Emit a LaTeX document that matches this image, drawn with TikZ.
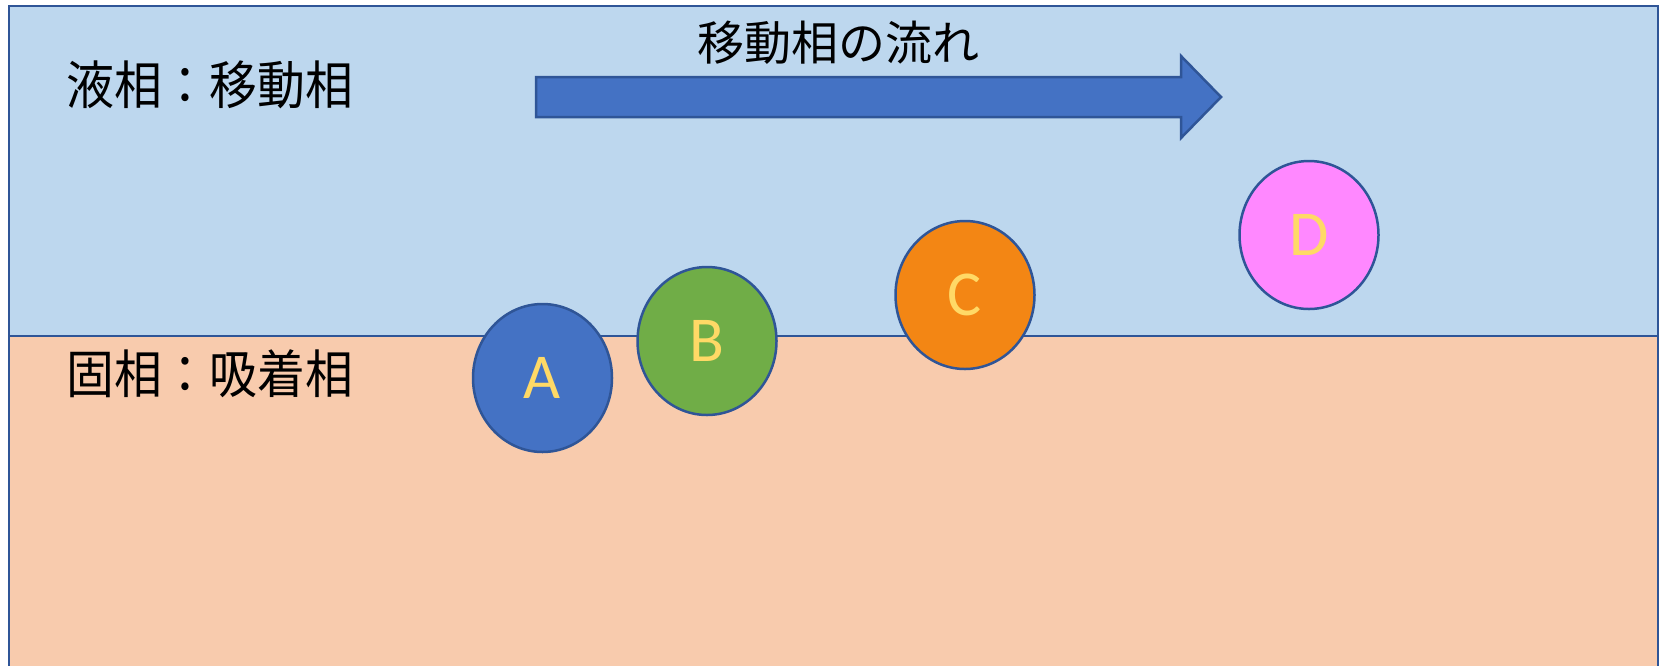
\documentclass[tikz,border=0pt]{standalone}
\usepackage{fontspec}
\setmainfont{Carlito}
\newfontfamily\jpfont{Noto Sans CJK JP}
\newfontfamily\jpnarrow[FakeStretch=0.92]{Noto Sans CJK JP}
\usetikzlibrary{shapes.geometric}
\definecolor{liq}{HTML}{BDD7EE}
\definecolor{sol}{HTML}{F8CBAD}
\definecolor{edge}{HTML}{2F5597}
\definecolor{cA}{HTML}{4472C4}
\definecolor{cB}{HTML}{70AD47}
\definecolor{cC}{HTML}{F38614}
\definecolor{cD}{HTML}{FF88FF}
\definecolor{letter}{HTML}{FFD966}
\tikzset{
  ball/.style={ellipse, draw=edge, line width=2.5pt, minimum width=139pt, minimum height=148pt, inner sep=0pt,
    text=letter, font=\fontsize{64}{64}\selectfont},
  phase/.style={anchor=west, inner sep=0pt, font=\jpnarrow\fontsize{52}{52}\selectfont},
}
\begin{document}
\begin{tikzpicture}[x=1pt,y=-1pt]
\useasboundingbox (0,0) rectangle (1661,665);
\clip (0,0) rectangle (1661,665);
\fill[white] (0,0) rectangle (1661,665);
\draw[fill=liq, draw=edge, line width=2.5pt] (9,6) rectangle (1658,336);
\draw[fill=sol, draw=edge, line width=2.5pt] (9,336) rectangle (1658,720);
\node[phase] (liqlabel) at (66,85) {液相：移動相};
\node[phase] (sollabel) at (66,374) {固相：吸着相};
\node[inner sep=0pt, font=\jpfont\fontsize{47}{47}\selectfont] (flowlabel) at (838,43) {移動相の流れ};
\draw[fill=cA, draw=edge, line width=2.5pt, line join=miter]
  (536,77) -- (1181,77) -- (1181,56) -- (1221,97) -- (1181,138) -- (1181,117) -- (536,117) -- cycle;
\node[ball, fill=cA] (A) at (542.5,378) {A};
\node[ball, fill=cB] (B) at (707,341) {B};
\node[ball, fill=cC] (C) at (965,295) {C};
\node[ball, fill=cD] (D) at (1309,235) {D};
\end{tikzpicture}
\end{document}
